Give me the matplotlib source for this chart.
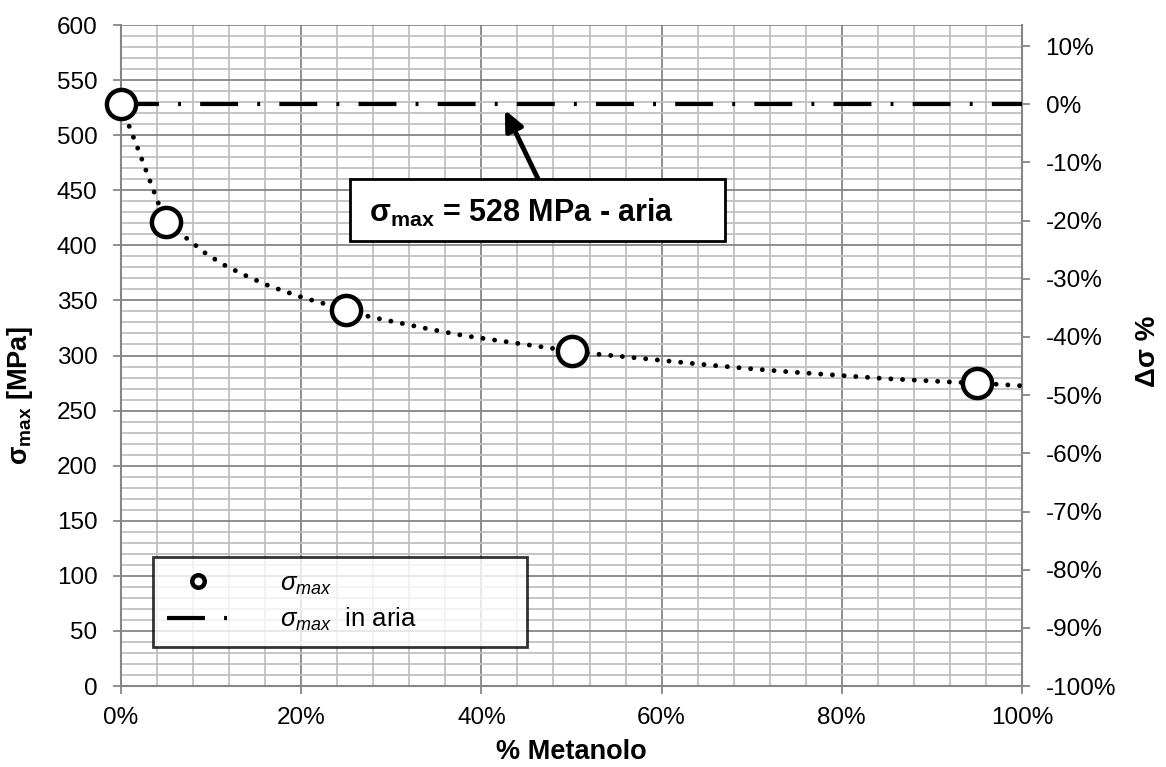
import matplotlib
matplotlib.use('Agg')
import matplotlib.pyplot as plt
from matplotlib.ticker import MultipleLocator, FuncFormatter
from matplotlib.lines import Line2D
from matplotlib.patches import Rectangle

plt.rcParams['font.family'] = ['Liberation Sans', 'DejaVu Sans']
plt.rcParams['mathtext.fontset'] = 'custom'
plt.rcParams['mathtext.rm'] = 'Liberation Sans'
plt.rcParams['mathtext.it'] = 'Liberation Sans:italic'
plt.rcParams['mathtext.bf'] = 'Liberation Sans:bold'

# measured points
metanolo = [0, 5, 25, 50, 95]
sigma = [528, 421, 341, 304, 275]

# smoothed trend
trend_x = [0, 1, 2, 3, 4.2, 5, 7.5, 9.5, 11.7, 14.1, 16.5, 20.2, 22.8, 25, 27.7,
           34.2, 38.1, 42, 47.1, 50, 52.3, 58.9, 64, 69.3, 74.4, 79.7, 84.9, 92.7, 95, 100]
trend_y = [528, 506, 485, 463, 437, 421, 405, 392, 381, 371.5, 363, 352.5, 346.5, 341, 335,
           324, 318, 313.4, 307.4, 304, 301.7, 296.5, 292.3, 288.4, 285, 282, 279, 275.7, 275, 272.5]

# reference value in air
sigma_aria = 528
aria_x = [0, 100]

fig = plt.figure(figsize=(11.66, 7.67), dpi=100)
ax = fig.add_axes([0.1038, 0.1056, 0.7727, 0.8618])

grid_major = '#868686'
grid_minor = '#c0c0c0'

ax.set_xlim(0, 100)
ax.set_ylim(0, 600)
ax.xaxis.set_major_locator(MultipleLocator(20))
ax.xaxis.set_minor_locator(MultipleLocator(4))
ax.yaxis.set_major_locator(MultipleLocator(50))
ax.yaxis.set_minor_locator(MultipleLocator(10))
ax.grid(which='minor', color=grid_minor, lw=1.3)
ax.grid(which='major', color=grid_major, lw=1.3)
ax.set_axisbelow(True)
ax.xaxis.set_major_formatter(FuncFormatter(lambda v, p: '%d%%' % round(v)))
ax.tick_params(which='minor', length=0)
ax.tick_params(which='major', length=6, width=1.3, color=grid_major, labelsize=17.5)
ax.tick_params(axis='y', pad=11)
ax.tick_params(axis='x', pad=9)
for s in ['left', 'bottom', 'right']:
    ax.spines[s].set_color(grid_major)
    ax.spines[s].set_linewidth(1.5)
ax.spines['top'].set_visible(False)

# trend (dotted)
ax.plot(trend_x, trend_y, color='black', lw=3.5, linestyle=(0, (0.01, 2.4)),
        dash_capstyle='round', zorder=3)

# air reference (dash-dot)
dashdot = (0, (9.1, 4.6, 0.7, 4.6))
ax.plot(aria_x, [sigma_aria, sigma_aria], color='black', lw=3, linestyle=dashdot, zorder=3)

# data points
ax.plot(metanolo, sigma, linestyle='none', marker='o', ms=21, mfc='white',
        mec='black', mew=3.2, zorder=4, clip_on=False)

ax.set_xlabel('% Metanolo', fontsize=19.5, fontweight='bold', labelpad=7)
ax.set_ylabel(r'$\mathbf{σ_{max}}$ [MPa]', fontsize=19.5, fontweight='bold')
ax.yaxis.set_label_coords(-0.0955, 0.44)

# right axis in percent
ax2 = ax.twinx()
ax2.set_ylim(0 / sigma_aria - 1, 600 / sigma_aria - 1)
ax2.yaxis.set_major_locator(MultipleLocator(0.1))
ax2.yaxis.set_major_formatter(FuncFormatter(lambda v, p: '%d%%' % round(v * 100)))
ax2.tick_params(length=6, width=1.3, color=grid_major, labelsize=17.5, pad=11)
for s in ax2.spines.values():
    s.set_visible(False)
ax2.set_ylabel('Δσ %', fontsize=20, fontweight='bold')
ax2.yaxis.set_label_coords(1.125, 0.507)

# annotation box with arrow
ax.annotate('', xy=(42.6, 523), xytext=(46.3, 460),
            arrowprops=dict(arrowstyle='-|>,head_length=1.2,head_width=0.55',
                            color='black', lw=3.5, shrinkA=0, shrinkB=0), zorder=5)
ax.add_patch(Rectangle((25.4, 404), 41.6, 56.2, fc='white', ec='black', lw=2, zorder=6))
ax.text(27.5, 421.2, r'$\mathbf{σ_{max}}$ = 528 MPa - aria', fontsize=22, fontweight='bold',
        ha='left', va='baseline', zorder=7)

# legend
handles = [Line2D([], [], linestyle='none', marker='o', ms=9, mfc='white', mec='black', mew=3.2),
           Line2D([], [], color='black', lw=3, linestyle=dashdot)]
labels = [r'$\sigma_{max}$', r'$\sigma_{max}$  in aria']
leg = ax.legend(handles, labels, loc='lower left', bbox_to_anchor=(0.0355, 0.059, 0.415, 0.157),
                mode='expand', fontsize=18.5, frameon=True, fancybox=False,
                handlelength=2.4, handletextpad=2.0, borderpad=0.55, labelspacing=0.35,
                borderaxespad=0)
leg.get_frame().set_edgecolor('black')
leg.get_frame().set_linewidth(2)
leg.set_zorder(6)

fig.savefig('out.png', dpi=100)
